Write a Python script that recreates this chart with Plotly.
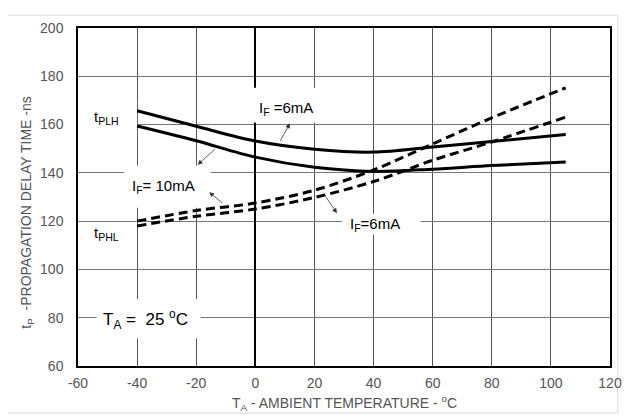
import plotly.graph_objects as go

# Data
temp = [-40, -20, 0, 20, 40, 60, 80, 105]
tplh_6ma = [165.7, 159.3, 153.2, 149.8, 148.6, 150.7, 153.0, 155.9]
tplh_10ma = [159.4, 153.3, 146.5, 142.3, 140.6, 141.5, 143.0, 144.5]
tphl_6ma = [120.0, 124.4, 127.5, 132.8, 141.2, 152.0, 162.8, 175.2]
tphl_10ma = [118.0, 122.0, 125.0, 129.8, 136.4, 145.2, 152.8, 163.1]

x_ticks = [-60, -40, -20, 0, 20, 40, 60, 80, 100, 120]
y_ticks = [60, 80, 100, 120, 140, 160, 180, 200]

FONT = "Liberation Sans, Arial, sans-serif"

fig = go.Figure()
for ys, dash in [(tplh_6ma, "solid"), (tplh_10ma, "solid"),
                 (tphl_6ma, "9px,5px"), (tphl_10ma, "9px,5px")]:
    fig.add_trace(go.Scatter(x=temp, y=ys, mode="lines",
                             line=dict(color="black", width=3, dash=dash,
                                       shape="spline", smoothing=0.9),
                             showlegend=False, hoverinfo="skip"))

shapes = []
# white boxes hiding gridlines behind labels
for x0, x1, y0, y1 in [(-44.4, -15.2, 125.5, 143.0),
                       (-60, -40, 155, 170),
                       (29.3, 55.9, 114.5, 123.1),
                       (-53.7, -18.5, 71.4, 87.7),
                       (-2.9, 23.7, 160.9, 175.2)]:
    shapes.append(dict(type="rect", xref="x", yref="y", x0=x0, x1=x1, y0=y0, y1=y1,
                       fillcolor="white", line=dict(width=0), layer="between"))
# light outer frame
shapes.append(dict(type="rect", xref="paper", yref="paper",
                   x0=-0.1347, x1=1.0148, y0=-0.1395, y1=1.0378,
                   line=dict(color="#dddddd", width=1), layer="below"))

annotations = []
def label(text, x, y, size=15):
    annotations.append(dict(text=text, x=x, y=y, xref="x", yref="y", showarrow=False,
                            font=dict(family=FONT, size=size, color="black")))

label("t<sub>PLH</sub>", -50.5, 163.0)
label("t<sub>PHL</sub>", -50.5, 115.0)
label("I<sub>F</sub> =6mA", 10.5, 166.5)
label("I<sub>F</sub>= 10mA", -31.0, 134.3)
label("I<sub>F</sub>=6mA", 40.6, 118.6)
label("T<sub>A</sub> =  25 <sup>o</sup>C", -37.0, 79.2, size=17)

def arrow(x, y, ax, ay):
    annotations.append(dict(x=x, y=y, ax=ax, ay=ay, xref="x", yref="y",
                            axref="x", ayref="y", text="", showarrow=True,
                            arrowhead=2, arrowsize=1.2, arrowwidth=0.8,
                            arrowcolor="#333333"))

arrow(11.7, 160.5, 8.2, 152.7)
arrow(-19.5, 143.4, -13.2, 150.3)
arrow(-15.6, 132.0, -10.6, 126.9)
arrow(27.6, 123.3, 23.4, 130.9)

# axis titles
annotations.append(dict(text="T<sub>A</sub> - AMBIENT TEMPERATURE - <sup>o</sup>C",
                        xref="paper", yref="paper", x=0.5, y=-0.108,
                        showarrow=False, yanchor="middle",
                        font=dict(family=FONT, size=14, color="#555555")))
annotations.append(dict(text="t<sub>P</sub>  -PROPAGATION DELAY TIME -ns",
                        xref="paper", yref="paper", x=-0.096, y=0.4535,
                        showarrow=False, textangle=-90, xanchor="center",
                        font=dict(family=FONT, size=14, color="#555555")))

# page body adds an 8px offset, so the figure is sized to fit the window
fig.update_layout(
    width=626, height=412,
    margin=dict(l=70, r=14, t=14, b=54),
    paper_bgcolor="white", plot_bgcolor="white",
    shapes=shapes, annotations=annotations,
    font=dict(family=FONT, size=14, color="#555555"),
)
fig.update_xaxes(range=[-60, 120], tickvals=x_ticks, ticktext=[str(v) for v in x_ticks],
                 showgrid=True, gridcolor="#555555", gridwidth=1,
                 zeroline=True, zerolinecolor="black", zerolinewidth=1.5,
                 showline=True, linecolor="black", linewidth=1.5, mirror=True,
                 ticks="", ticklabelstandoff=3, tickfont=dict(size=14))
fig.update_yaxes(range=[60, 200], tickvals=y_ticks, ticktext=[str(v) for v in y_ticks],
                 showgrid=True, gridcolor="#777777", gridwidth=1,
                 zeroline=False,
                 showline=True, linecolor="black", linewidth=1.5, mirror=True,
                 ticks="", ticklabelstandoff=10, tickfont=dict(size=14))

fig.write_html("out.html")
